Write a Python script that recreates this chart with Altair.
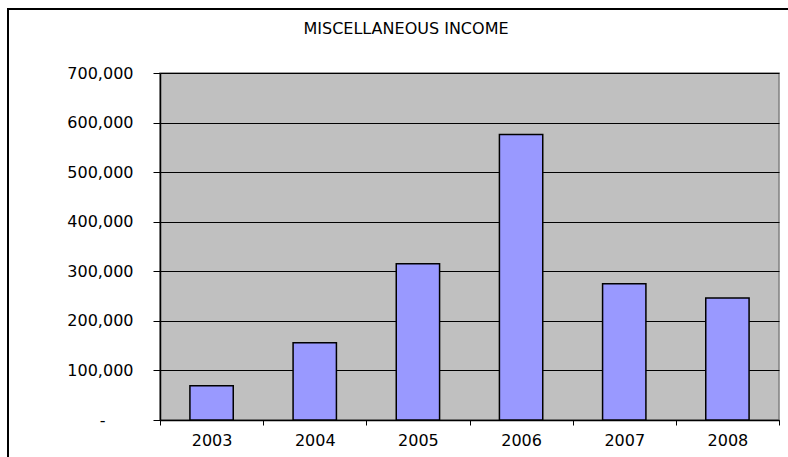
import altair as alt
import pandas as pd

years = ["2003", "2004", "2005", "2006", "2007", "2008"]
income = [69000, 156000, 315000, 576000, 275000, 246000]
y_ticks = [0, 100000, 200000, 300000, 400000, 500000, 600000, 700000]
title_text = ["MISCELLANEOUS INCOME"]

df = pd.DataFrame({"year": years, "income": income})
tdf = pd.DataFrame({"t": title_text})

FONT = "DejaVu Sans"

bars = alt.Chart(df).mark_bar(
    width=alt.RelativeBandSize(0.42),
    fill="#9999FF", stroke="black", strokeWidth=1.5
).encode(
    x=alt.X("year:N", sort=years, title=None,
            scale=alt.Scale(paddingInner=0, paddingOuter=0),
            axis=alt.Axis(labelAngle=0, tickBand="extent", tickSize=5,
                          tickColor="black", domainColor="black", domainWidth=1.5,
                          labelFont=FONT, labelFontSize=16, labelColor="black",
                          labelPadding=7, grid=False)),
    y=alt.Y("income:Q", title=None,
            scale=alt.Scale(domain=[0, 700000], nice=False),
            axis=alt.Axis(values=y_ticks,
                          labelExpr="datum.value == 0 ? '-' : format(datum.value, ',')",
                          labelPadding={"condition": {"test": "datum.value === 0", "value": 48}, "value": 20},
                          tickSize=7, tickColor="black", domainColor="black", domainWidth=1.5,
                          labelFont=FONT, labelFontSize=16, labelColor="black",
                          grid=True, gridColor="black", gridWidth=1))
)

frame = alt.Chart(df).mark_rect(fill=None, stroke="black", strokeWidth=2).encode(
    x=alt.value(-152), x2=alt.value(650), y=alt.value(-64), y2=alt.value(400)
)

title = alt.Chart(tdf).mark_text(
    font=FONT, fontSize=16, color="black", baseline="alphabetic", align="center"
).encode(
    text="t:N", x=alt.value(246), y=alt.value(-39)
)

chart = alt.layer(frame, bars, title).properties(
    width=619, height=347,
    padding={"left": 160, "top": 73, "right": 9, "bottom": 37},
    autosize=alt.AutoSizeParams(type="none"),
).configure(background="white").configure_view(
    fill="#C0C0C0", stroke="#808080", strokeWidth=1.5
)

chart.save("out.html", embed_options={"renderer": "svg", "actions": False})
